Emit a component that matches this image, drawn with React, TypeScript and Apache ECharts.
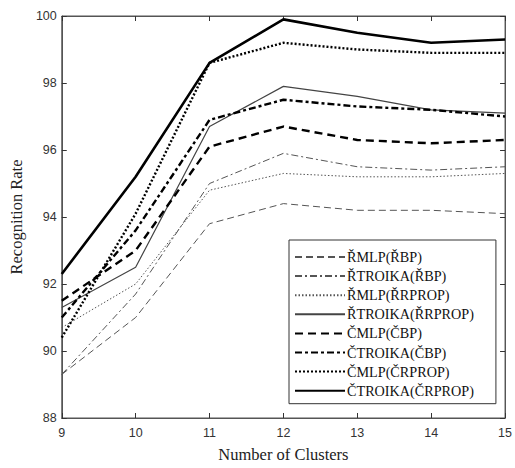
import React, { useEffect, useRef } from "react";
import * as echarts from "echarts";

const clusters = ["9", "10", "11", "12", "13", "14", "15"];
const seriesNames = [
  "ŘMLP(ŘBP)",
  "ŘTROIKA(ŘBP)",
  "ŘMLP(ŘRPROP)",
  "ŘTROIKA(ŘRPROP)",
  "ČMLP(ČBP)",
  "ČTROIKA(ČBP)",
  "ČMLP(ČRPROP)",
  "ČTROIKA(ČRPROP)",
];
const rMlpBp = [89.3, 91.0, 93.8, 94.4, 94.2, 94.2, 94.1];
const rTroikaBp = [89.3, 91.7, 95.0, 95.9, 95.5, 95.4, 95.5];
const rMlpRprop = [90.7, 92.0, 94.8, 95.3, 95.2, 95.2, 95.3];
const rTroikaRprop = [91.3, 92.5, 96.7, 97.9, 97.6, 97.2, 97.1];
const cMlpBp = [91.5, 93.0, 96.1, 96.7, 96.3, 96.2, 96.3];
const cTroikaBp = [91.0, 93.6, 96.9, 97.5, 97.3, 97.2, 97.0];
const cMlpRprop = [90.4, 94.1, 98.6, 99.2, 99.0, 98.9, 98.9];
const cTroikaRprop = [92.3, 95.2, 98.6, 99.9, 99.5, 99.2, 99.3];
const seriesValues = [rMlpBp, rTroikaBp, rMlpRprop, rTroikaRprop, cMlpBp, cTroikaBp, cMlpRprop, cTroikaRprop];

const styles: any[] = [
  { color: "#555", width: 1, type: [7, 4] },
  { color: "#555", width: 1, type: [7, 3, 2, 3] },
  { color: "#555", width: 1, type: [1.5, 2] },
  { color: "#444", width: 1.2, type: "solid" },
  { color: "#000", width: 2.4, type: [8, 5] },
  { color: "#000", width: 2.4, type: [7, 3, 3, 3] },
  { color: "#000", width: 2.4, type: [2, 2] },
  { color: "#000", width: 2.6, type: "solid" },
];

export default function App() {
  const ref = useRef<HTMLDivElement>(null);
  useEffect(() => {
    const chart = echarts.init(ref.current!, undefined, { renderer: "svg" });
    const tickLabel = { color: "#333", fontFamily: "Liberation Sans, Arial, sans-serif", fontSize: 12.5 };
    chart.setOption({
      animation: false,
      backgroundColor: "#fff",
      grid: { left: 57, right: 3, top: 16, bottom: 48, show: true, borderColor: "#555", borderWidth: 1 },
      legend: {
        orient: "vertical",
        left: 289,
        top: 240,
        width: 213,
        data: seriesNames,
        backgroundColor: "#fff",
        borderColor: "#333",
        borderWidth: 1,
        borderRadius: 0,
        padding: [10, 22, 6, 5],
        itemWidth: 50,
        itemHeight: 14,
        itemGap: 5.1,
        itemStyle: { color: "rgba(0,0,0,0)", borderWidth: 0, opacity: 0 },
        textStyle: { fontFamily: "Liberation Serif, Times New Roman, serif", fontSize: 14.2, color: "#111", padding: [0, 0, 0, -3] },
      },
      xAxis: [
        {
          type: "category",
          data: clusters,
          boundaryGap: false,
          name: "Number of Clusters",
          nameLocation: "middle",
          nameGap: 28,
          nameTextStyle: { fontFamily: "Liberation Serif, Times New Roman, serif", fontSize: 16.5, color: "#222" },
          axisLine: { show: true, lineStyle: { color: "#555" } },
          axisTick: { show: true, inside: true, length: 5, lineStyle: { color: "#333" } },
          axisLabel: { ...tickLabel, margin: 8 },
          splitLine: { show: false },
        },
        {
          type: "category",
          data: clusters,
          boundaryGap: false,
          position: "top",
          axisLine: { show: true, lineStyle: { color: "#555" } },
          axisTick: { show: true, inside: true, length: 5, lineStyle: { color: "#333" } },
          axisLabel: { show: false },
          splitLine: { show: false },
        },
      ],
      yAxis: [
        {
          type: "value",
          min: 88,
          max: 100,
          interval: 2,
          name: "Recognition Rate",
          nameLocation: "middle",
          nameGap: 32,
          nameTextStyle: { fontFamily: "Liberation Serif, Times New Roman, serif", fontSize: 16.5, color: "#222" },
          axisLine: { show: true, lineStyle: { color: "#555" } },
          axisTick: { show: true, inside: true, length: 5, lineStyle: { color: "#333" } },
          axisLabel: { ...tickLabel, margin: 5 },
          splitLine: { show: false },
        },
        {
          type: "value",
          min: 88,
          max: 100,
          interval: 2,
          position: "right",
          axisLine: { show: true, lineStyle: { color: "#555" } },
          axisTick: { show: true, inside: true, length: 5, lineStyle: { color: "#333" } },
          axisLabel: { show: false },
          splitLine: { show: false },
        },
      ],
      series: seriesNames.map((name, i) => ({
        name,
        type: "line",
        data: seriesValues[i],
        symbol: "none",
        showSymbol: false,
        itemStyle: { color: styles[i].color },
        lineStyle: { color: styles[i].color, width: styles[i].width, type: styles[i].type },
        z: 2 + i,
      })),
    });
    return () => chart.dispose();
  }, []);
  return <div ref={ref} style={{ width: 515, height: 468, position: "absolute", left: 0, top: 0 }} />;
}
